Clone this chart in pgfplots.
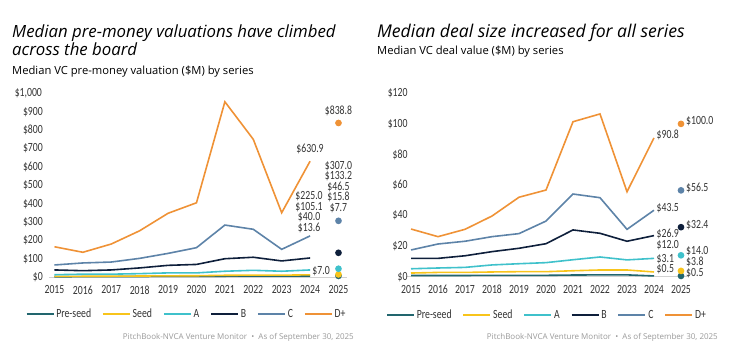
\documentclass[border=0pt]{standalone}
\usepackage{fontspec}
\setmainfont{Open Sans}
\newfontfamily\condfont[FakeStretch=0.78]{Carlito}
\usepackage{pgfplots}
\pgfplotsset{compat=1.18}
\definecolor{cPre}{HTML}{22666E}
\definecolor{cSeed}{HTML}{F8C41B}
\definecolor{cA}{HTML}{3FC1CB}
\definecolor{cB}{HTML}{0E1F3B}
\definecolor{cC}{HTML}{5D83A8}
\definecolor{cD}{HTML}{EF9236}
\definecolor{txt}{HTML}{333333}
\tikzset{lbl/.style={font=\condfont\fontsize{12.5}{10.5}\selectfont, text=txt, inner sep=0pt, align=center}}
\pgfplotsset{
  base/.style={
    scale only axis, clip=false,
    xmin=2014.8, xmax=2025.3, ymin=0,
    axis x line*=bottom, axis y line*=left,
    x axis line style={draw=black!18, line width=0.8pt, -},
    y axis line style={draw=none},
    tick style={draw=none},
    xtick={2015,2016,2017,2018,2019,2020,2021,2022,2023,2024,2025},
    xticklabels={2015,2016,2017,2018,2019,2020,2021,2022,2023,2024,2025},
    scaled y ticks=false,
    yticklabel={\$\pgfmathprintnumber[fixed, precision=0, 1000 sep={,}, assume math mode=true]{\tick}},
    ticklabel style={font=\condfont\fontsize{12.5}{12.5}\selectfont, text=txt},
    xticklabel style={yshift=-5pt},
    legend image code/.code={\draw[#1,line width=1.6pt] (0pt,0pt) -- (27pt,0pt);},
    legend style={draw=none, fill=none, font=\condfont\fontsize{12.5}{12.5}\selectfont, text=txt,
      legend columns=-1, /tikz/every even column/.append style={column sep=9pt},
      inner sep=0pt, cells={anchor=west}},
    every axis plot/.append style={line width=1.6pt},
  },
}
\begin{document}
\begin{tikzpicture}
\path[use as bounding box] (0,0) rectangle (744pt,-357pt);
% Titles
\node[anchor=base west, font=\itshape\fontsize{16.8}{16.8}\selectfont, inner sep=0pt] at (12pt,-37.3pt) {Median pre-money valuations have climbed};
\node[anchor=base west, font=\itshape\fontsize{16.8}{16.8}\selectfont, inner sep=0pt] at (12pt,-55pt) {across the board};
\node[anchor=base west, font=\fontsize{11.2}{11.2}\selectfont, inner sep=0pt] at (12pt,-74pt) {Median VC pre-money valuation (\$M) by series};
\node[anchor=base west, font=\itshape\fontsize{17.6}{17.6}\selectfont, inner sep=0pt] at (377pt,-37.3pt) {Median deal size increased for all series};
\node[anchor=base west, font=\fontsize{11.2}{11.2}\selectfont, inner sep=0pt] at (377pt,-54pt) {Median VC deal value (\$M) by series};
\node[anchor=east, font=\fontsize{8}{8}\selectfont, text=black!40, inner sep=0pt] at (354pt,-337.3pt) {PitchBook-NVCA Venture Monitor~~\textbullet~~As of September 30, 2025};
\node[anchor=east, font=\fontsize{8}{8}\selectfont, text=black!40, inner sep=0pt] at (718pt,-337.3pt) {PitchBook-NVCA Venture Monitor~~\textbullet~~As of September 30, 2025};

% Left chart
\begin{axis}[base, at={(48.8pt,-277.3pt)}, anchor=south west,
  width=298.2pt, height=184pt, ymax=1000,
  ytick={0,100,200,300,400,500,600,700,800,900},
  yticklabel style={xshift=-2.5pt},
  legend style={at={(0.462,-0.2)}, anchor=center}]
\addplot[cPre] coordinates {(2015,3)(2016,3.5)(2017,4)(2018,4.5)(2019,5)(2020,5.5)(2021,6)(2022,6.5)(2023,6.5)(2024,7.0)};
\addlegendentry{Pre-seed}
\addplot[cSeed] coordinates {(2015,5)(2016,5.5)(2017,6)(2018,7)(2019,8)(2020,8.5)(2021,11)(2022,12)(2023,11.5)(2024,13.6)};
\addlegendentry{Seed}
\addplot[cA] coordinates {(2015,14)(2016,17)(2017,17)(2018,20)(2019,24)(2020,24)(2021,33)(2022,38)(2023,33)(2024,40.0)};
\addlegendentry{A}
\addplot[cB] coordinates {(2015,40)(2016,36)(2017,40)(2018,51)(2019,65)(2020,70)(2021,101)(2022,109)(2023,89)(2024,105.1)};
\addlegendentry{B}
\addplot[cC] coordinates {(2015,67)(2016,78)(2017,83)(2018,103)(2019,130)(2020,161)(2021,284)(2022,261)(2023,152)(2024,225.0)};
\addlegendentry{C}
\addplot[cD] coordinates {(2015,166)(2016,136)(2017,181)(2018,253)(2019,348)(2020,405)(2021,954)(2022,750)(2023,351)(2024,630.9)};
\addlegendentry{D+}
\addplot[forget plot, only marks, mark=*, mark size=2.5pt, cPre] coordinates {(2025,7.7)};
\addplot[forget plot, only marks, mark=*, mark size=2.5pt, cSeed] coordinates {(2025,15.8)};
\addplot[forget plot, only marks, mark=*, mark size=2.5pt, cA] coordinates {(2025,46.5)};
\addplot[forget plot, only marks, mark=*, mark size=2.5pt, cB] coordinates {(2025,133.2)};
\addplot[forget plot, only marks, mark=*, mark size=2.5pt, cC] coordinates {(2025,307.0)};
\addplot[forget plot, only marks, mark=*, mark size=2.5pt, cD] coordinates {(2025,838.8)};
\node[font=\condfont\fontsize{12.5}{12.5}\selectfont, text=txt, inner sep=0pt, anchor=east] at (axis cs:2014.8,1000) [xshift=-6.7pt] {\$1,000};
\node[lbl] at (axis cs:2025,838.8) [yshift=12pt] {\$838.8};
\node[lbl] at (axis cs:2024,630.9) [yshift=12pt] {\$630.9};
\node[lbl] at (axis cs:2025,307) [yshift=34pt] {\$307.0\\\$133.2\\\$46.5\\\$15.8\\\$7.7};
\node[lbl] at (axis cs:2024,225) [yshift=23.6pt, xshift=-1pt] {\$225.0\\\$105.1\\\$40.0\\\$13.6};
\node[lbl] at (axis cs:2024,7) [yshift=4.5pt, xshift=11pt] {\$7.0};
\end{axis}

% Right chart
\begin{axis}[base, at={(405.6pt,-276.7pt)}, anchor=south west,
  width=283.5pt, height=183.4pt, ymax=120,
  ytick={0,20,40,60,80,100,120},
  yticklabel style={xshift=5.5pt},
  legend style={at={(0.499,-0.208)}, anchor=center}]
\addplot[cPre] coordinates {(2015,0.8)(2016,0.8)(2017,0.8)(2018,0.9)(2019,0.9)(2020,0.9)(2021,1.1)(2022,1.2)(2023,1.2)(2024,0.5)};
\addlegendentry{Pre-seed}
\addplot[cSeed] coordinates {(2015,2.4)(2016,2.8)(2017,2.8)(2018,3.1)(2019,3.3)(2020,3.3)(2021,3.9)(2022,4.4)(2023,4.4)(2024,3.1)};
\addlegendentry{Seed}
\addplot[cA] coordinates {(2015,5.2)(2016,5.7)(2017,6.1)(2018,7.7)(2019,8.5)(2020,9.2)(2021,11.1)(2022,12.9)(2023,11.0)(2024,12.0)};
\addlegendentry{A}
\addplot[cB] coordinates {(2015,12)(2016,12)(2017,13.7)(2018,16.4)(2019,18.6)(2020,21.6)(2021,30.6)(2022,28.4)(2023,23.2)(2024,26.9)};
\addlegendentry{B}
\addplot[cC] coordinates {(2015,17.5)(2016,21.4)(2017,23.2)(2018,26.2)(2019,28.2)(2020,36.4)(2021,54.1)(2022,51.7)(2023,31.0)(2024,43.5)};
\addlegendentry{C}
\addplot[cD] coordinates {(2015,31.2)(2016,26.2)(2017,31)(2018,39.7)(2019,52)(2020,56.7)(2021,101.4)(2022,106.5)(2023,55.6)(2024,90.8)};
\addlegendentry{D+}
\addplot[forget plot, only marks, mark=*, mark size=2.5pt, cPre] coordinates {(2025,0.5)};
\addplot[forget plot, only marks, mark=*, mark size=2.5pt, cSeed] coordinates {(2025,3.8)};
\addplot[forget plot, only marks, mark=*, mark size=2.5pt, cA] coordinates {(2025,14.0)};
\addplot[forget plot, only marks, mark=*, mark size=2.5pt, cB] coordinates {(2025,32.4)};
\addplot[forget plot, only marks, mark=*, mark size=2.5pt, cC] coordinates {(2025,56.5)};
\addplot[forget plot, only marks, mark=*, mark size=2.5pt, cD] coordinates {(2025,100.0)};
\node[lbl, anchor=west] at (axis cs:2025,100) [xshift=5pt, yshift=3pt] {\$100.0};
\node[lbl, anchor=west] at (axis cs:2025,56.5) [xshift=5pt, yshift=2pt] {\$56.5};
\node[lbl, anchor=west] at (axis cs:2025,32.4) [xshift=5pt, yshift=2pt] {\$32.4};
\node[lbl, anchor=west] at (axis cs:2025,14.0) [xshift=5pt, yshift=4pt] {\$14.0};
\node[lbl, anchor=west] at (axis cs:2025,3.8) [xshift=5pt, yshift=9pt] {\$3.8};
\node[lbl, anchor=west] at (axis cs:2025,0.5) [xshift=5pt, yshift=2.5pt] {\$0.5};
\node[lbl, anchor=west] at (axis cs:2024,90.8) [xshift=2.5pt, yshift=3pt] {\$90.8};
\node[lbl, anchor=west] at (axis cs:2024,43.5) [xshift=2.5pt, yshift=2.5pt] {\$43.5};
\node[lbl, anchor=west] at (axis cs:2024,26.9) [xshift=2.5pt, yshift=1.6pt] {\$26.9};
\node[lbl, anchor=west] at (axis cs:2024,12.0) [xshift=2.5pt, yshift=13.5pt] {\$12.0};
\node[lbl, anchor=west] at (axis cs:2024,3.1) [xshift=2.5pt, yshift=13pt] {\$3.1};
\node[lbl, anchor=west] at (axis cs:2024,0.5) [xshift=2.5pt, yshift=7pt] {\$0.5};
\end{axis}
\end{tikzpicture}
\end{document}
